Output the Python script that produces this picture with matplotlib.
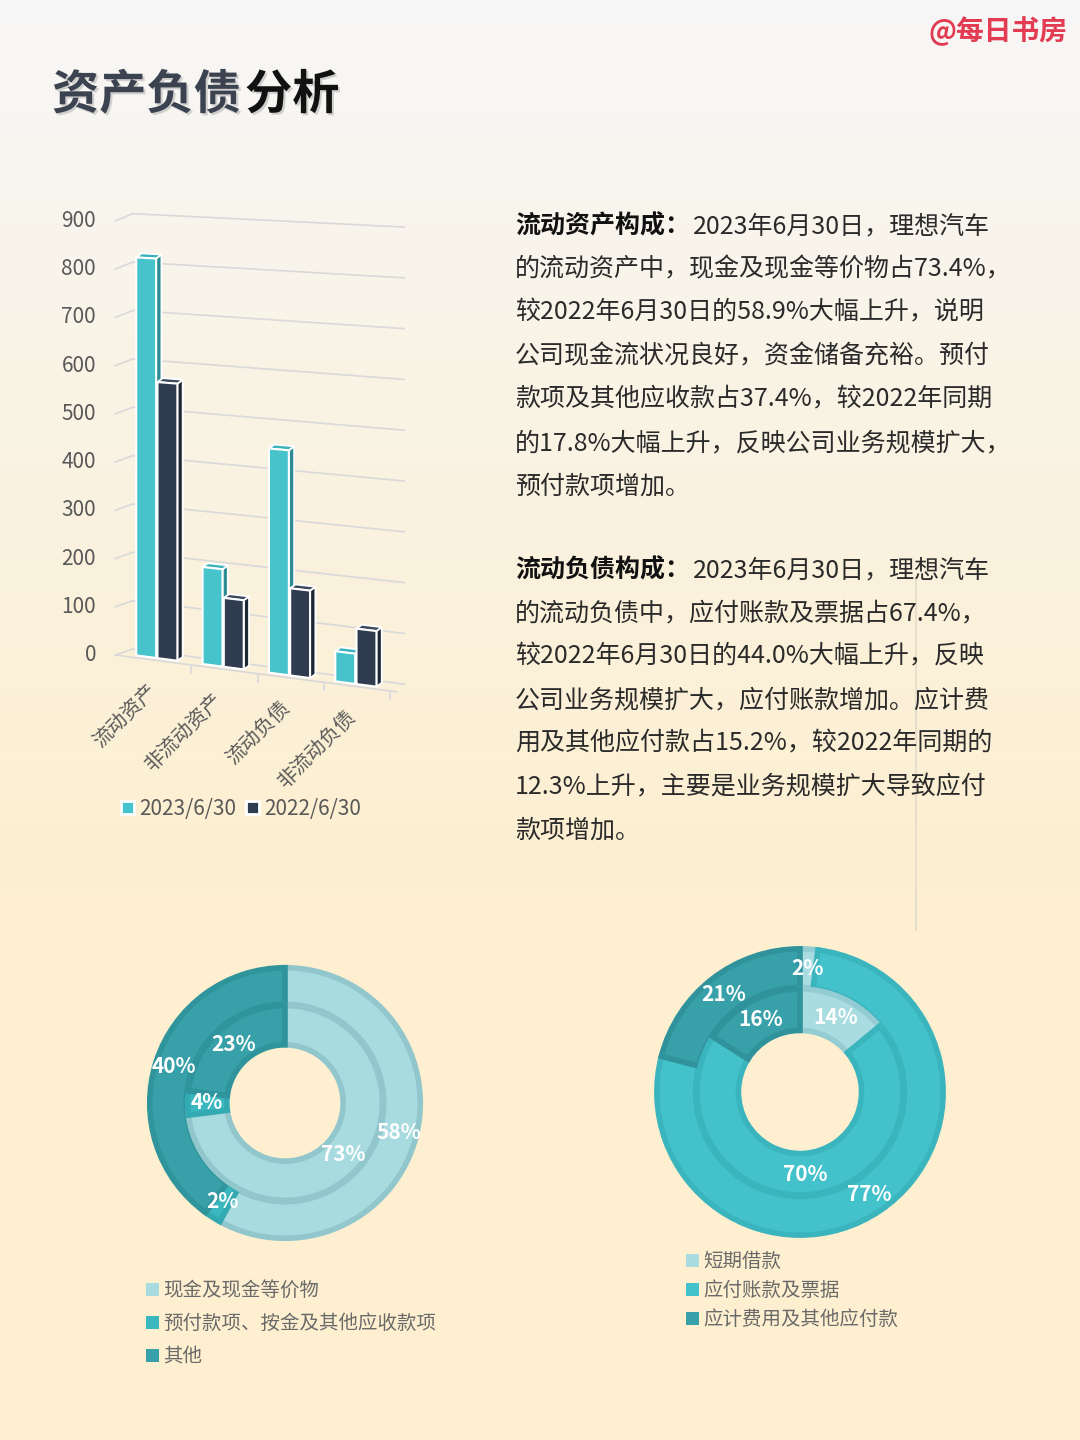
import numpy as np
import matplotlib
matplotlib.use("Agg")
import matplotlib.pyplot as plt
import matplotlib.patheffects as pe
from matplotlib.patches import Polygon, Patch, Rectangle
from matplotlib.lines import Line2D
from matplotlib.transforms import Transform, offset_copy

plt.rcParams["font.family"] = ["Noto Sans CJK SC", "DejaVu Sans"]

W, H = 1080, 1440

# column chart
categories = ["流动资产", "非流动资产", "流动负债", "非流动负债"]
series = ["2023/6/30", "2022/6/30"]
values_2023 = [822, 198, 452, 60]
values_2022 = [568, 140, 175, 110]
y_ticks = [0, 100, 200, 300, 400, 500, 600, 700, 800, 900]

# donuts: inner ring = 2023, outer ring = 2022 (percent)
asset_items = ["现金及现金等价物", "预付款项、按金及其他应收款项", "其他"]
asset_2023 = [73, 4, 23]
asset_2022 = [58, 2, 40]
liab_items = ["短期借款", "应付账款及票据", "应计费用及其他应付款"]
liab_2023 = [14, 70, 16]
liab_2022 = [2, 77, 21]

para1_head = "流动资产构成："
para1 = [
    "2023年6月30日，理想汽车",
    "的流动资产中，现金及现金等价物占73.4%，",
    "较2022年6月30日的58.9%大幅上升，说明",
    "公司现金流状况良好，资金储备充裕。预付",
    "款项及其他应收款占37.4%，较2022年同期",
    "的17.8%大幅上升，反映公司业务规模扩大，",
    "预付款项增加。",
]
para2_head = "流动负债构成："
para2 = [
    "2023年6月30日，理想汽车",
    "的流动负债中，应付账款及票据占67.4%，",
    "较2022年6月30日的44.0%大幅上升，反映",
    "公司业务规模扩大，应付账款增加。应计费",
    "用及其他应付款占15.2%，较2022年同期的",
    "12.3%上升，主要是业务规模扩大导致应付",
    "款项增加。",
]

GREY = "#595959"


def fx(x):
    return x / W


def fy(y):
    return 1 - y / H


class Perspective(Transform):
    """Tilts the axes box: horizontal lines drop to the right, more near the floor."""
    input_dims = output_dims = 2

    def __init__(self, k_floor, k_top):
        super().__init__()
        self.k_floor = k_floor
        self.k_top = k_top

    def transform_non_affine(self, values):
        values = np.asarray(values, dtype=float)
        u, v = values[:, 0], values[:, 1]
        k = self.k_floor + (self.k_top - self.k_floor) * v
        return np.column_stack([u, v - k * u])


fig = plt.figure(figsize=(W / 100, H / 100), dpi=100)

# background gradient
bg = fig.add_axes([0, 0, 1, 1], zorder=-10)
top_c = np.array([247, 247, 247]) / 255
bot_c = np.array([253, 239, 207]) / 255
t = np.clip(np.linspace(0, 1, 400) / 0.62, 0, 1)[:, None]
grad = (top_c * (1 - t) + bot_c * t)[:, None, :]
bg.imshow(grad, aspect="auto", extent=[0, 1, 0, 1])
bg.axis("off")

# header
fig.text(fx(1068), fy(31), "@每日书房", ha="right", va="center", fontsize=20,
         fontweight="bold", color="#E23B52")
shadow = [pe.withSimplePatchShadow(offset=(1.5, -1.5), shadow_rgbFace="#888888", alpha=0.35)]
fig.text(fx(52), fy(95), "资产负债", ha="left", va="center", fontsize=34,
         fontweight="bold", color="#3B4250", path_effects=shadow)
fig.text(fx(245), fy(95), "分析", ha="left", va="center", fontsize=34,
         fontweight="bold", color="#111111", path_effects=shadow)

# ---- pseudo 3D column chart ----
ax = fig.add_axes([fx(115), fy(655), 282 / W, (655 - 221) / H])
ax.set_xlim(-0.65, 3.6)
ax.set_ylim(0, 900)
ax.axis("off")
tf = ax.transScale + ax.transLimits + Perspective(0.085, 0.033) + ax.transAxes

x_lo, x_hi = ax.get_xlim()
wall_dx, wall_dy = 0.27, 17  # depth of the back wall
bar_dx, bar_dy = -0.02, 5    # bars sit a bit behind the front edge
grid_c = "#D9D9D9"

for v in y_ticks:
    ax.plot([x_lo + wall_dx, x_hi + wall_dx * 0.4], [v + wall_dy, v + wall_dy],
            transform=tf, color=grid_c, lw=1.2, clip_on=False, zorder=1)
    ax.plot([x_lo, x_lo + wall_dx], [v, v + wall_dy], transform=tf,
            color=grid_c, lw=1.2, clip_on=False, zorder=1)
    ax.text(x_lo, v, str(v), transform=offset_copy(tf, fig, x=-19, y=0, units="dots"),
            ha="right", va="center", fontsize=15, color=GREY)

# floor front edge with tick marks
ax.plot([x_lo, x_hi], [0, 0], transform=tf, color=grid_c, lw=1.2, clip_on=False, zorder=1)
for b in np.arange(len(categories)) + 0.5:
    ax.plot([b, b], [0, -16], transform=tf, color=grid_c, lw=1.2, clip_on=False, zorder=1)

bar_w = 0.30
side = 0.08
top = 9
styles = [
    (-0.16, values_2023, "#47C3CC", "#2C8C93", "#3CB3BB"),
    (0.16, values_2022, "#2F3C4F", "#1E2734", "#3C4A5E"),
]
for i in range(len(categories)):
    for off, vals, c_front, c_side, c_top in styles:
        h = vals[i]
        xc = i + off + bar_dx
        xl, xr = xc - bar_w / 2, xc + bar_w / 2
        ax.add_patch(Polygon([(xr, bar_dy), (xr + side, bar_dy + top),
                              (xr + side, bar_dy + top + h), (xr, bar_dy + h)],
                             closed=True, transform=tf, fc=c_side, ec="white",
                             lw=1.3, clip_on=False, zorder=3))
        ax.add_patch(Polygon([(xl, bar_dy + h), (xr, bar_dy + h),
                              (xr + side, bar_dy + h + top), (xl + side, bar_dy + h + top)],
                             closed=True, transform=tf, fc=c_top, ec="white",
                             lw=1.3, clip_on=False, zorder=3))
        ax.bar(xc, h, bar_w, bottom=bar_dy, transform=tf, color=c_front,
               edgecolor="white", linewidth=1.5, clip_on=False, zorder=4)

for i, cat in enumerate(categories):
    ax.text(i + bar_dx, 0, cat, transform=offset_copy(tf, fig, x=-3, y=-27, units="dots"),
            rotation=45, rotation_mode="anchor", ha="right", va="center",
            fontsize=14.5, color=GREY)

bar_handles = [Rectangle((0, 0), 1, 1, fc="#47C3CC", ec="white", lw=2),
               Rectangle((0, 0), 1, 1, fc="#2F3C4F", ec="white", lw=2)]
fig.legend(bar_handles, series, loc="center", bbox_to_anchor=(fx(241), fy(809)),
           ncol=2, frameon=False, fontsize=15, handlelength=0.6, handleheight=0.6,
           handletextpad=0.25, columnspacing=0.5, labelcolor=GREY, borderpad=0)

# ---- paragraphs ----
line_h = 43.4
for head, lines, y0 in [(para1_head, para1, 226), (para2_head, para2, 570)]:
    fig.text(fx(515), fy(y0), head, ha="left", va="center", fontsize=18,
             fontweight="bold", color="#111111")
    for k, line in enumerate(lines):
        x = 693 if k == 0 else 515
        fig.text(fx(x), fy(y0 + k * line_h), line, ha="left", va="center",
                 fontsize=18, color="#2A2A2A")

fig.add_artist(Line2D([fx(916), fx(916)], [fy(578), fy(930)], color="#E7DFCC", lw=1.5))


# ---- donuts ----
def donut(cx, cy, r, outer, inner, fills, edges, items, legend_xy, spacing):
    dax = fig.add_axes([fx(cx - r), fy(cy + r), 2 * r / W, 2 * r / H])
    lbl = dict(color="white", fontsize=15, fontweight="bold")
    wo, _, _ = dax.pie(outer, radius=1, startangle=90, counterclock=False, colors=fills,
                       wedgeprops=dict(width=0.27, linewidth=4),
                       autopct=lambda p: f"{p:.0f}%", pctdistance=0.865, textprops=lbl)
    wi, _, _ = dax.pie(inner, radius=0.72, startangle=90, counterclock=False, colors=fills,
                       wedgeprops=dict(width=0.29, linewidth=4),
                       autopct=lambda p: f"{p:.0f}%", pctdistance=0.8, textprops=lbl)
    for w, e in zip(list(wo) + list(wi), edges * 2):
        w.set_edgecolor(e)
    dax.set_xlim(-1.02, 1.02)
    dax.set_ylim(-1.02, 1.02)
    handles = [Patch(fc=c) for c in fills]
    fig.legend(handles, items, loc="upper left", bbox_to_anchor=legend_xy, frameon=False,
               fontsize=14, handlelength=0.65, handleheight=0.65, handletextpad=0.25,
               labelspacing=spacing, labelcolor="#6A6A6A", borderpad=0, borderaxespad=0)


donut(285, 1103, 138, asset_2022, asset_2023,
      ["#A8DBDF", "#3BB7BF", "#37A0A8"], ["#90C6CC", "#33AAB2", "#2F949C"],
      asset_items, (fx(146), fy(1280)), 0.62)
donut(800, 1092, 146, liab_2022, liab_2023,
      ["#A9DCE0", "#44C2CB", "#38A0A9"], ["#93CCD2", "#3AB4BD", "#30939C"],
      liab_items, (fx(686), fy(1251)), 0.42)

fig.savefig("out.png", dpi=100)
